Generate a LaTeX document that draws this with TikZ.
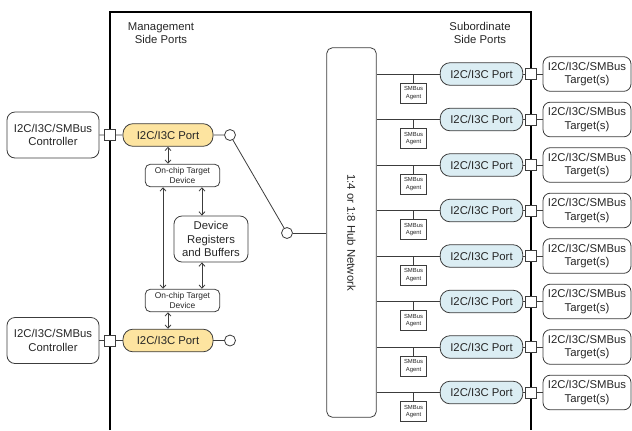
\documentclass[tikz,border=0pt]{standalone}
\usepackage{fontspec}
\setmainfont{Liberation Sans}
\usetikzlibrary{arrows.meta}
\definecolor{portyellow}{RGB}{253,228,160}
\definecolor{portblue}{RGB}{219,237,243}
\definecolor{edgegray}{RGB}{60,60,60}
\definecolor{textgray}{RGB}{38,38,38}
\tikzset{
  box/.style={draw=edgegray, line width=0.6pt, rounded corners=6pt, align=center, inner sep=1pt, text=textgray, font=\fontsize{8.5}{10.2}\selectfont},
  ctrl/.style={box, minimum width=69pt, minimum height=34.5pt},
  tgt/.style={box, rounded corners=5.5pt, minimum width=66pt, minimum height=26pt},
  mport/.style={box, fill=portyellow, rounded corners=7.5pt, minimum width=67.5pt, minimum height=17pt},
  sport/.style={box, fill=portblue, rounded corners=7.5pt, minimum width=62pt, minimum height=17pt},
  onchip/.style={box, rounded corners=4pt, minimum width=56pt, minimum height=17pt, font=\fontsize{6.3}{7.2}\selectfont},
  agent/.style={draw=edgegray, line width=0.5pt, fill=white, minimum width=19.5pt, minimum height=15pt, inner sep=0pt, align=center, text=textgray, font=\fontsize{4.4}{5.4}\selectfont},
  plug/.style={draw=edgegray, line width=0.6pt, fill=white, minimum size=8.25pt, inner sep=0pt},
  joint/.style={circle, draw=edgegray, line width=0.6pt, fill=white, minimum size=8.25pt, inner sep=0pt},
  wire/.style={draw=edgegray, line width=0.6pt},
  link/.style={wire, <->, >={Straight Barb[length=2.5pt,width=4.5pt]}},
  heading/.style={align=center, text=textgray, font=\fontsize{8.5}{10.2}\selectfont}
}
\begin{document}
\begin{tikzpicture}[x=0.75pt, y=-0.75pt]
	\useasboundingbox (0,0) rectangle (632,430);
	\draw[line width=1.2pt] (110,430) -- (110,12) -- (531,12) -- (531,430);
	
	\node[heading] (mgmt) at (161,33) {Management\\Side Ports};
	\node[heading] (subo) at (480,33) {Subordinate\\Side Ports};
	
	\node[ctrl] (ctlA) at (53,135) {I2C/I3C/SMBus\\Controller};
	\node[plug] (sqA) at (110,135) {};
	\node[mport] (mpA) at (168,135) {I2C/I3C Port};
	\node[joint] (jA) at (230,135) {};
	\node[onchip] (ocA) at (182.5,175.5) {On-chip Target\\Device};
	\node[box, minimum width=55.5pt, minimum height=34.5pt] (dev) at (211,239) {Device\\Registers\\and Buffers};
	\node[onchip] (ocB) at (182.5,300.5) {On-chip Target\\Device};
	\node[ctrl] (ctlB) at (53,340.5) {I2C/I3C/SMBus\\Controller};
	\node[plug] (sqB) at (110,340.5) {};
	\node[mport] (mpB) at (168,340.5) {I2C/I3C Port};
	\node[joint] (jB) at (230,340.5) {};
	
	\node[box, rounded corners=4pt, minimum width=37pt, minimum height=277pt] (hub) at (351.5,232.5) {};
	\node[heading, rotate=-90] (hubtext) at (hub.center) {1:4 or 1:8 Hub Network};
	\node[joint] (jH) at (287,233) {};
	
	\draw[wire] (ctlA) -- (sqA) -- (mpA) -- (jA) -- (jH);
	\draw[wire] (ctlB) -- (sqB) -- (mpB) -- (jB);
	\draw[wire] (jH) -- (jH -| hub.west);
	
	\draw[link] (mpA.south) -- (mpA.south |- ocA.north);
	\draw[link] ([xshift=-14.6pt]ocA.south) -- ([xshift=-14.6pt]ocB.north);
	\draw[link] ([xshift=14.6pt]ocA.south) -- ([xshift=14.6pt]ocA.south |- dev.north);
	\draw[link] ([xshift=14.6pt]ocB.north |- dev.south) -- ([xshift=14.6pt]ocB.north);
	\draw[link] (mpB.north |- ocB.south) -- (mpB.north);
	
	\foreach \i in {0,...,7}{
		\pgfmathsetmacro\ry{74+45.5*\i}
		\node[sport] (sp\i) at (481.5,\ry) {I2C/I3C Port};
		\node[plug] (sq\i) at (531,\ry) {};
		\node[tgt] (tg\i) at (587,\ry) {I2C/I3C/SMBus\\Target(s)};
		\node[agent] (ag\i) at (413.5,\ry+19) {SMBus\\Agent};
		\draw[wire] (hub.east |- sp\i) -- (sp\i);
		\draw[wire] (ag\i) -- (ag\i |- sp\i);
		\draw[wire] (sp\i) -- (sq\i) -- (tg\i);
	}
\end{tikzpicture}
\end{document}
